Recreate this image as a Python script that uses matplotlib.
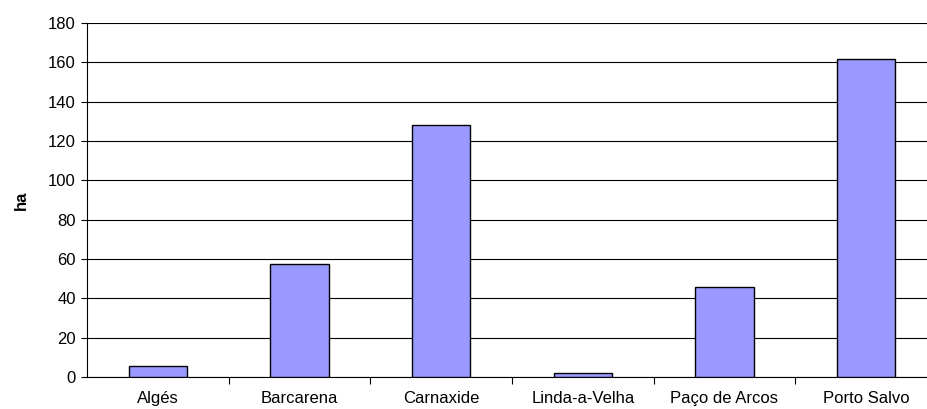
import numpy as np
import matplotlib.pyplot as plt
from matplotlib.ticker import FixedLocator

plt.rcParams['font.family'] = ['Liberation Sans', 'DejaVu Sans']

freguesias = ["Algés", "Barcarena", "Carnaxide", "Linda-a-Velha", "Paço de Arcos", "Porto Salvo"]
area_ha = [5.5, 57.5, 128, 2, 46, 161.5]
y_ticks = [0, 20, 40, 60, 80, 100, 120, 140, 160, 180]

W, H = 927, 409
fig = plt.figure(figsize=(W / 100, H / 100), dpi=100)
# plot area runs a bit past the right edge of the picture, as in the original
ax = fig.add_axes([87 / W, 1 - 377 / H, 850 / W, 354 / H])

x = np.arange(len(freguesias))
ax.bar(x, area_ha, width=0.41, color="#9999ff", edgecolor="black", linewidth=1.0, zorder=3)

ax.set_xlim(-0.5, len(freguesias) - 0.5)
ax.set_ylim(0, 180)
ax.set_yticks(y_ticks)
ax.yaxis.grid(True, color="black", linewidth=0.8, zorder=0)
ax.set_axisbelow(True)

ax.set_xticks(x)
ax.set_xticklabels(freguesias, fontsize=12)
ax.tick_params(axis="x", which="major", length=0, pad=10)
ax.xaxis.set_minor_locator(FixedLocator(x[:-1] + 0.5))
ax.tick_params(axis="x", which="minor", length=5, width=0.8, direction="out")
ax.tick_params(axis="y", length=4, width=0.8, labelsize=12, pad=4)

for s in ["top", "right"]:
    ax.spines[s].set_visible(False)
ax.spines["left"].set_linewidth(0.8)
ax.spines["bottom"].set_linewidth(0.8)

ax.set_ylabel("ha", fontsize=12, fontweight="bold", labelpad=14)

fig.savefig("out.png", dpi=100)
